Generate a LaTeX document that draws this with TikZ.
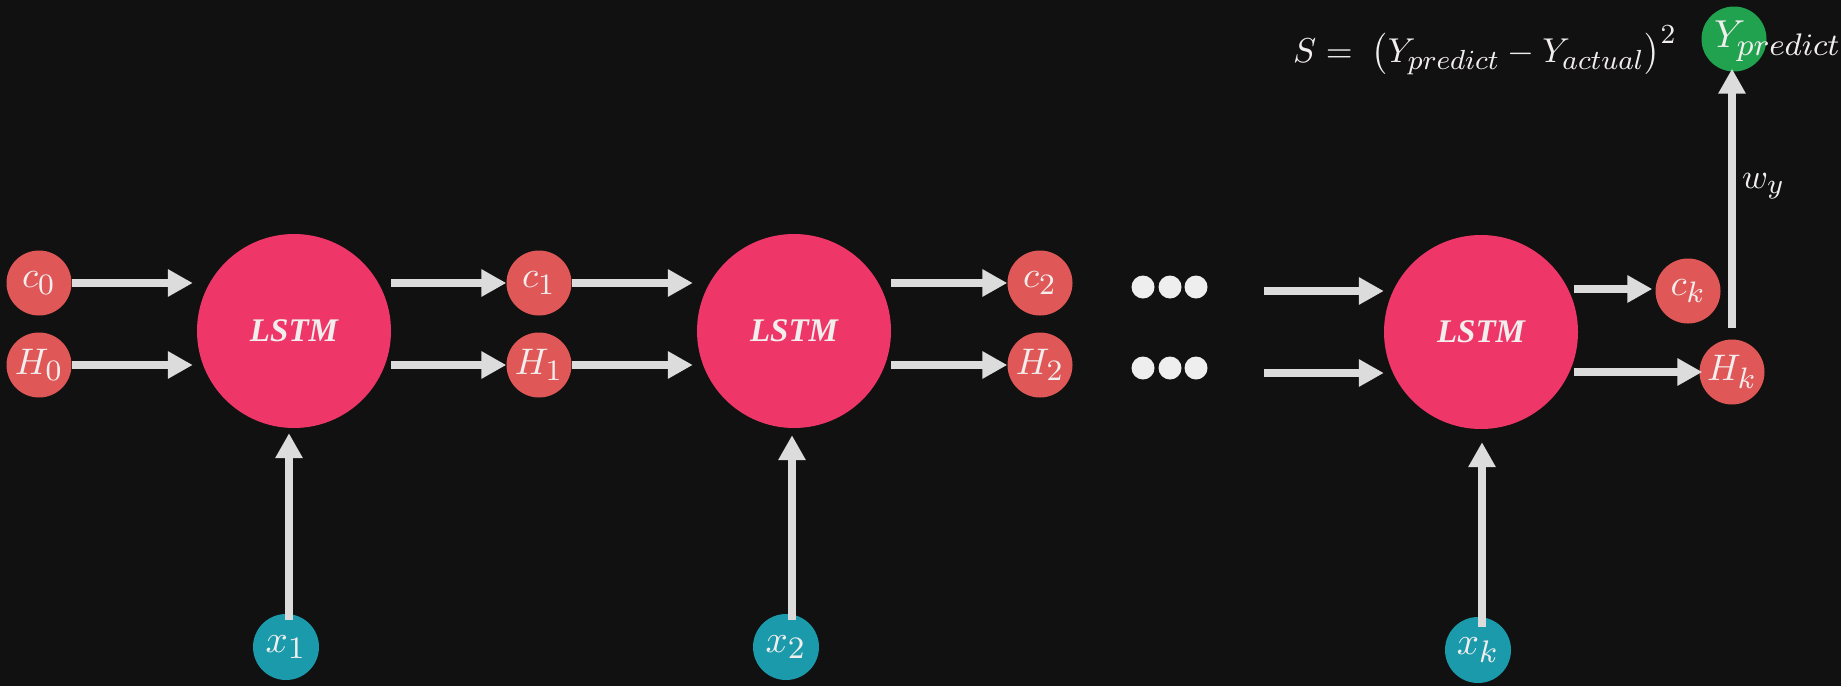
\documentclass[tikz,border=0pt]{standalone}
\usepackage{fontspec}
\newfontfamily\lstmfont{Liberation Serif}
\usetikzlibrary{arrows.meta}
\DeclareMathSizes{10}{10}{8}{6}
\definecolor{bgc}{HTML}{111111}
\definecolor{lstmc}{HTML}{EE3768}
\definecolor{statec}{HTML}{E05757}
\definecolor{tealc}{HTML}{1A9AAA}
\definecolor{greenc}{HTML}{21A24F}
\definecolor{arrowc}{HTML}{DCDCDC}
\definecolor{txtc}{HTML}{F2EEEE}
\definecolor{dotc}{HTML}{EEEEEE}
\newcommand{\bigtxt}[2]{\scalebox{#1}{#2}}
\begin{document}
\begin{tikzpicture}[x=1pt,y=-1pt,
  arr/.style={draw=arrowc, line width=8pt, -{Triangle[length=25pt,width=26pt]}},
  lstm/.style={circle, fill=lstmc, minimum size=194pt, inner sep=0pt, text=txtc,
    font=\lstmfont\bfseries\itshape\fontsize{33}{38}\selectfont},
  st/.style={circle, fill=statec, minimum size=65pt, inner sep=0pt, text=txtc},
  xin/.style={circle, fill=tealc, minimum size=66pt, inner sep=0pt, text=txtc},
  outc/.style={circle, fill=greenc, minimum size=65pt, inner sep=0pt},
  dotn/.style={circle, fill=dotc, minimum size=23pt, inner sep=0pt},
  lab/.style={text=txtc, inner sep=0pt}]
\fill[bgc] (0,0) rectangle (1841,686);
\useasboundingbox (0,0) rectangle (1841,686);

% LSTM cells
\node[lstm] (L1) at (294,331) {LSTM};
\node[lstm] (L2) at (794,331) {LSTM};
\node[lstm] (L3) at (1481,332) {LSTM};

% states
\node[st] (c0) at (39,283) {\bigtxt{3.7}{$c_0$}};
\node[st] (H0) at (39,365) {\bigtxt{3.7}{$H_0$}};
\node[st] (c1) at (539,283) {\bigtxt{3.7}{$c_1$}};
\node[st] (H1) at (539,365) {\bigtxt{3.7}{$H_1$}};
\node[st] (c2) at (1040,283) {\bigtxt{3.7}{$c_2$}};
\node[st] (H2) at (1040,365) {\bigtxt{3.7}{$H_2$}};
\node[st] (ck) at (1688,291) {\bigtxt{3.7}{$c_k$}};
\node[st] (Hk) at (1732,372) {\bigtxt{3.7}{$H_k$}};

% inputs
\node[xin] (x1) at (286,647) {\bigtxt{3.9}{$x_1$}};
\node[xin] (x2) at (786,647) {\bigtxt{3.9}{$x_2$}};
\node[xin] (xk) at (1478,650) {\bigtxt{3.9}{$x_k$}};

% output
\node[outc] (Y) at (1734,39) {};
\node[lab, anchor=base west] (ylab) at (1714,47) {\bigtxt{3.9}{$Y_{predict}$}};
\node[lab, anchor=base west] (loss) at (1293,62) {\bigtxt{3.45}{$S =\;\left(Y_{predict} - Y_{actual}\right)^2$}};
\node[lab, anchor=base west] (wy) at (1742,188) {\bigtxt{3.5}{$w_y$}};

% dots
\node[dotn] (d1) at (1143,287) {};
\node[dotn] (d2) at (1170,287) {};
\node[dotn] (d3) at (1196,287) {};
\node[dotn] (e1) at (1143,368) {};
\node[dotn] (e2) at (1170,368) {};
\node[dotn] (e3) at (1196,368) {};
\coordinate (ta) at (1264,291);
\coordinate (tb) at (1264,373);

% horizontal arrows
\draw[arr, shorten >=4pt] (c0.east) -- (c0.east -| L1.west);
\draw[arr, shorten >=4pt] (H0.east) -- (H0.east -| L1.west);
\draw[arr] (L1.east |- c1.west) -- (c1.west);
\draw[arr] (L1.east |- H1.west) -- (H1.west);
\draw[arr, shorten >=4pt] (c1.east) -- (c1.east -| L2.west);
\draw[arr, shorten >=4pt] (H1.east) -- (H1.east -| L2.west);
\draw[arr] (L2.east |- c2.west) -- (c2.west);
\draw[arr] (L2.east |- H2.west) -- (H2.west);
\draw[arr] (ta) -- (ta -| L3.west);
\draw[arr] (tb) -- (tb -| L3.west);
\draw[arr, shorten <=-4pt, shorten >=3pt] ([yshift=2pt]L3.east |- ck.west) -- ([yshift=2pt]ck.west);
\draw[arr, shorten <=-4pt, shorten >=-3pt] (L3.east |- Hk.west) -- (Hk.west);

% vertical arrows
\draw[arr, shorten <=-6pt, shorten >=5pt] ([xshift=3pt]x1.north) -- ([xshift=3pt]x1.north |- L1.south);
\draw[arr, shorten <=-6pt, shorten >=7pt] ([xshift=6pt]x2.north) -- ([xshift=6pt]x2.north |- L2.south);
\draw[arr, shorten <=-10pt, shorten >=13pt] ([xshift=4pt]xk.north) -- ([xshift=4pt]xk.north |- L3.south);
\draw[arr, shorten <=11pt, shorten >=-3pt] (Hk.north) -- (Hk.north |- Y.south);
\end{tikzpicture}
\end{document}
